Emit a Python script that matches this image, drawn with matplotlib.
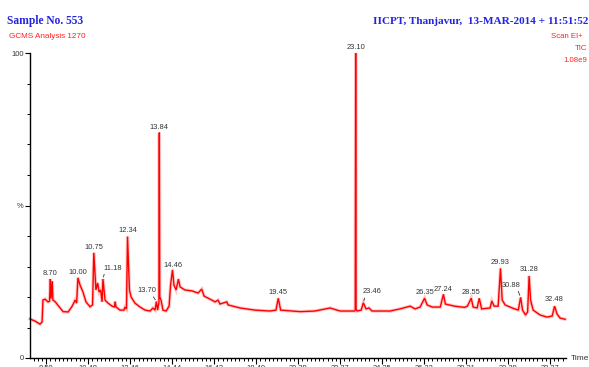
import matplotlib
matplotlib.use("Agg")
import matplotlib.pyplot as plt
import numpy as np

# ---------------- data ----------------
trace_time = [7.74, 7.98, 8.21, 8.31, 8.35, 8.45, 8.59, 8.66, 8.70, 8.73, 8.79, 8.82, 8.92, 9.30, 9.54, 9.73, 9.87, 9.94,
              10.00, 10.10, 10.24, 10.38, 10.57, 10.69, 10.75, 10.85, 10.93, 11.00, 11.07, 11.14, 11.18, 11.28, 11.42, 11.61, 11.73, 11.75, 11.80, 11.99,
              12.17, 12.22, 12.29, 12.34, 12.43, 12.51, 12.69, 12.93, 13.17, 13.40, 13.54, 13.64, 13.70, 13.76, 13.80, 13.82, 13.84, 13.86, 13.92,
              14.01, 14.16, 14.30, 14.37, 14.46, 14.53, 14.63, 14.74, 14.82, 15.05, 15.38, 15.67, 15.84, 15.95, 16.23, 16.47, 16.61, 16.70, 17.02, 17.08, 17.65, 18.35, 19.06, 19.34, 19.45, 19.56,
              20.48, 21.18, 21.66, 21.89, 22.37, 23.05, 23.08, 23.10, 23.12, 23.17, 23.36, 23.46, 23.59, 23.73, 23.87,
              24.72, 25.19, 25.67, 25.90, 26.14, 26.35, 26.47, 26.71, 27.09, 27.24, 27.33, 27.76, 28.23, 28.37, 28.55, 28.64, 28.83, 28.93, 29.04,
              29.44, 29.52, 29.63, 29.82, 29.93, 30.01, 30.15, 30.48, 30.77, 30.88, 30.97, 31.11, 31.21, 31.28, 31.35, 31.47, 31.80, 32.13, 32.37, 32.48, 32.60, 32.74, 32.98]
trace_pct = [12.8, 12.1, 11.1, 11.8, 19.0, 19.3, 18.4, 18.6, 25.9, 19.5, 25.2, 19.0, 18.5, 15.2, 15.1, 17.0, 19.0, 18.0,
             26.3, 23.9, 21.6, 18.4, 16.8, 17.4, 34.5, 22.3, 24.6, 21.6, 22.3, 18.4, 25.9, 19.0, 18.0, 17.0, 16.7, 18.5, 16.7, 15.7,
             15.7, 16.7, 16.1, 39.8, 22.3, 20.0, 18.0, 16.7, 15.7, 15.4, 16.4, 15.7, 18.5, 15.7, 17.4, 18.0, 73.9, 20.0, 19.0,
             15.7, 15.4, 17.0, 23.9, 28.9, 23.9, 22.3, 25.9, 23.3, 22.3, 22.0, 21.3, 22.6, 20.3, 19.3, 18.4, 19.0, 17.7, 18.4, 17.4, 16.4, 15.7, 15.4, 15.7, 19.6, 15.7,
             15.2, 15.4, 16.1, 16.4, 15.4, 15.4, 15.6, 100.0, 16.0, 15.4, 15.7, 18.1, 16.1, 16.4, 15.4,
             15.4, 16.1, 17.0, 16.1, 16.7, 19.6, 17.4, 16.7, 16.7, 20.9, 17.7, 17.0, 16.6, 17.0, 19.6, 16.7, 16.4, 19.6, 16.1,
             16.4, 18.7, 17.0, 17.0, 29.4, 19.0, 17.4, 16.4, 15.7, 19.9, 15.7, 14.1, 15.1, 26.9, 19.0, 15.7, 14.1, 13.4, 13.8, 17.0, 14.4, 13.1, 12.7]

peak_labels = ["8.70", "10.00", "10.75", "11.18", "12.34", "13.70", "13.84", "14.46", "19.45", "23.10",
               "23.46", "26.35", "27.24", "28.55", "29.93", "30.88", "31.28", "32.48"]
peak_heights = [25.9, 26.3, 34.5, 25.9, 39.8, 18.5, 73.9, 28.9, 19.6, 100.0,
                18.1, 19.6, 20.9, 19.6, 29.4, 19.9, 26.9, 17.0]

y_tick_values = [0, 50, 100]
y_tick_labels = ["0", "%", "100"]

# ---------------- styling / layout ----------------
W, H = 589, 367
fig = plt.figure(figsize=(W / 100, H / 100), dpi=100)
ax = fig.add_axes([30 / W, 9 / H, 536 / W, 305 / H])

RED = "#ff0000"
ax.plot(trace_time, trace_pct, color=RED, lw=2.4, alpha=0.22, clip_on=False, solid_joinstyle="miter")
ax.plot(trace_time, trace_pct, color=RED, lw=1.0, clip_on=False, solid_joinstyle="miter")

for s in ("top", "right"):
    ax.spines[s].set_visible(False)
for s in ("left", "bottom"):
    ax.spines[s].set_linewidth(1.0)
    ax.spines[s].set_color("black")

lab_font = dict(family=["Liberation Sans", "DejaVu Sans"], size=5.4, color="#333333")

# x ticks (majors roughly every 2 min, 10 minors per major)
majors = np.linspace(8.50, 32.27, 13)
minors = np.linspace(8.50 - 1.98, 32.27 + 1.98, 141)
ax.set_xticks(majors)
ax.set_xticks(minors, minor=True)
ax.set_xticklabels([f"{m:.2f}" for m in majors], **lab_font)
ax.tick_params(axis="x", which="major", length=4, width=0.8, pad=1.2, direction="out")
ax.tick_params(axis="x", which="minor", length=2.2, width=0.7, direction="out")

ax.set_yticks(y_tick_values)
ax.set_yticks(np.arange(0, 101, 10), minor=True)
ax.set_yticklabels(y_tick_labels, **lab_font)
ax.tick_params(axis="y", which="major", length=3.5, width=0.8, pad=1.0, direction="out")
ax.tick_params(axis="y", which="minor", length=2.2, width=0.7, direction="out")

# limits set after the ticks so the view is not widened
ax.set_xlim(7.74, 33.02)
ax.set_ylim(0, 100)

# peak labels: (dx_px, dy_px, leader relpos or None)
offsets = {
    "8.70": (0, 5.7, None), "10.00": (0, 5.0, None), "10.75": (0, 5.4, None),
    "11.18": (9.4, 11.0, (0.1, 0.0)), "12.34": (0, 5.7, None),
    "13.70": (-9.4, 11.0, (0.75, 0.0)), "13.84": (0, 5.0, None), "14.46": (1.0, 4.5, None),
    "19.45": (0, 5.6, None), "23.10": (0, 5.5, None), "23.46": (8.7, 11.0, (0.15, 0.0)),
    "26.35": (0, 5.6, None), "27.24": (0, 4.6, None), "28.55": (0, 5.6, None),
    "29.93": (0, 5.6, None), "30.88": (-9.2, 12.3, (0.8, 0.0)), "31.28": (0, 6.0, None),
    "32.48": (0, 6.7, None),
}
for lab, h in zip(peak_labels, peak_heights):
    t = float(lab)
    dx, dy, rel = offsets[lab]
    kw = {}
    if rel is not None:
        kw["arrowprops"] = dict(arrowstyle="-", color="#333333", lw=0.6,
                                shrinkA=0, shrinkB=1.5, relpos=rel)
    ax.annotate(lab, xy=(t, h), xytext=(dx * 0.72, dy * 0.72), textcoords="offset points",
                ha="center", va="center", annotation_clip=False, **lab_font, **kw)

# header texts
def ftext(x, y, s, **kw):
    fig.text(x / W, 1 - y / H, s, **kw)

serif = ["Liberation Serif", "DejaVu Serif"]
sans = ["Liberation Sans", "DejaVu Sans"]
BLUE = "#2424e0"
ftext(7, 24, "Sample No. 553", family=serif, weight="bold", size=8.3, color=BLUE, va="baseline", ha="left")
ftext(588, 24, "IICPT, Thanjavur,  13-MAR-2014 + 11:51:52", family=serif, weight="bold", size=8.1,
      color=BLUE, va="baseline", ha="right")
ftext(9, 38.3, "GCMS Analysis 1270", family=sans, size=5.9, color="#ff2020", va="baseline", ha="left")
ftext(583, 38.3, "Scan EI+", family=sans, size=5.6, color="#ff2020", va="baseline", ha="right")
ftext(587, 50, "TIC", family=sans, size=5.6, color="#ff2020", va="baseline", ha="right")
ftext(587, 61.7, "1.08e9", family=sans, size=5.6, color="#ff2020", va="baseline", ha="right")
ftext(571, 358, "Time", family=sans, size=6.0, color="#333333", va="center", ha="left")

fig.savefig("out.png", dpi=100)
